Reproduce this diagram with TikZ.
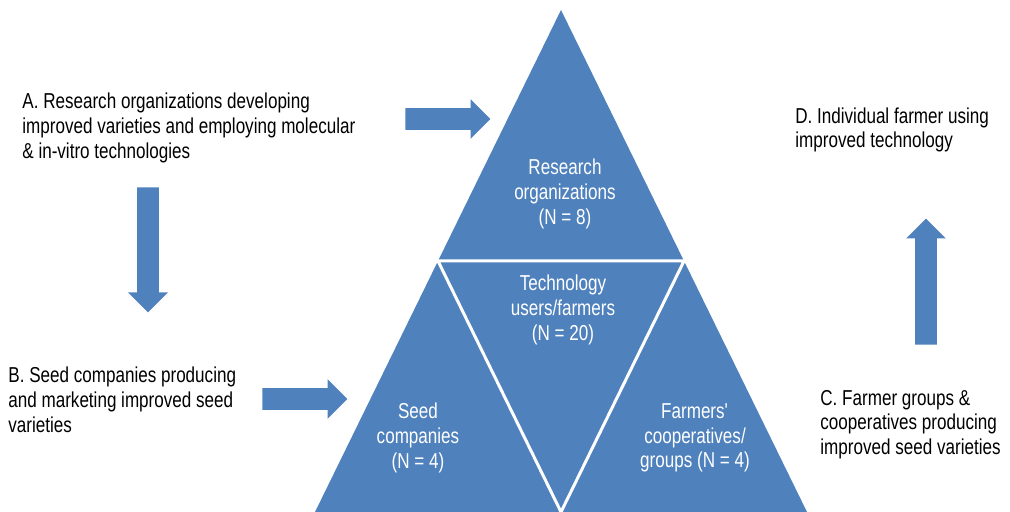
\documentclass[tikz,border=0pt]{standalone}
\usepackage{fontspec}
\setmainfont{Liberation Sans}[FakeStretch=0.79]
\usetikzlibrary{shapes.arrows,calc}
\definecolor{triblue}{RGB}{79,129,189}

\begin{document}
\begin{tikzpicture}[
  x=0.5pt,y=-0.5pt,
  note/.style={align=left,inner sep=0pt,anchor=west,font=\fontsize{10.8}{12.4}\selectfont},
  part/.style={align=center,inner sep=0pt,text=white,font=\fontsize{10.8}{12.4}\selectfont},
  bigarrow/.style={single arrow,fill=triblue,draw=none,anchor=tail,single arrow head extend=4.5pt,minimum width=0pt},
  across/.style={bigarrow,inner xsep=0pt,inner ysep=5.25pt},
  upright/.style={bigarrow,inner xsep=5.25pt,inner ysep=0pt}
]
\useasboundingbox (0,0) rectangle (1010,512);
% pyramid
\coordinate (apex) at (561,10);
\coordinate (bl) at (315,512);
\coordinate (br) at (807,512);
\fill[triblue] (apex) -- (bl) -- (br) -- cycle;
\draw[white,line width=1.5pt] ($(apex)!0.5!(bl)$) -- ($(apex)!0.5!(br)$) -- ($(bl)!0.5!(br)$) -- cycle;
\node[part] (research) at (565,194) {Research\\organizations\\(N = 8)};
\node[part] (users) at (563,310) {Technology\\users/farmers\\(N = 20)};
\node[part] (seed) at (418,438) {Seed\\companies\\(N = 4)};
\node[part] (coops) at (695,438) {Farmers\textquotesingle\\cooperatives/\\groups (N = 4)};
% actors
\node[note] (nA) at (22,128) {A. Research organizations developing\\improved varieties and employing molecular\\\& in-vitro technologies};
\node[note] (nB) at (8,399.5) {B. Seed companies producing\\and marketing improved seed\\varieties};
\node[note] (nC) at (820,424.5) {C. Farmer groups \&\\cooperatives producing\\improved seed varieties};
\node[note] (nD) at (795,130) {D. Individual farmer using\\improved technology};
% block arrows
\node[across,minimum height=42.5pt] (a1) at (405,119) {};
\node[upright,minimum height=62.5pt,shape border rotate=270] (a2) at (148,187) {};
\node[across,minimum height=42.5pt] (a3) at (262,399) {};
\node[upright,minimum height=63pt,shape border rotate=90] (a4) at (926,345) {};
\end{tikzpicture}
\end{document}
